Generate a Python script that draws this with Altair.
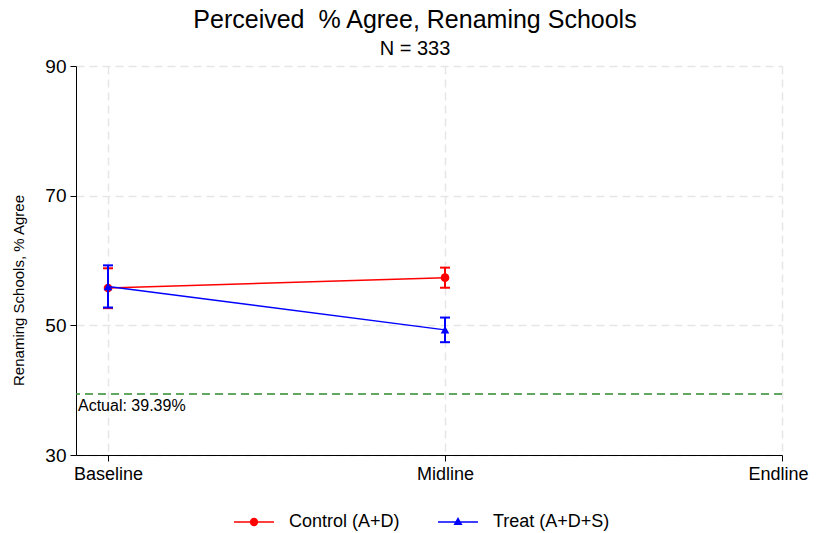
import altair as alt
import pandas as pd
import math

# ---- data ----
waves = ["Baseline", "Midline", "Endline"]
wave_pos = [1, 2, 3]
groups = ["Control (A+D)", "Treat (A+D+S)"]

control_mean = [55.75, 57.35]
control_lo = [52.65, 55.8]
control_hi = [58.8, 58.9]

treat_mean = [56.0, 49.3]
treat_lo = [52.75, 47.4]
treat_hi = [59.25, 51.2]

actual_value = 39.39
actual_label = "Actual: 39.39%"

colors = ["#ff0000", "#0000ff"]
markers = ["circle", "triangle-up"]
green = "#2e8b2e"
FONT = "Liberation Sans"

rows = []
for g, m, lo, hi in [
    (groups[0], control_mean, control_lo, control_hi),
    (groups[1], treat_mean, treat_lo, treat_hi),
]:
    for i in range(len(m)):
        rows.append({"wave": wave_pos[i], "group": g, "mean": m[i], "lo": lo[i], "hi": hi[i]})
df = pd.DataFrame(rows)

ref_df = pd.DataFrame({"y": [actual_value], "x": [0.905], "label": [actual_label]})

xscale = alt.Scale(domain=[0.905, 3.0], nice=False, zero=False)
yscale = alt.Scale(domain=[30, 90], nice=False, zero=False)

label_expr = "datum.value == 1 ? 'Baseline' : datum.value == 2 ? 'Midline' : 'Endline'"

xaxis = alt.Axis(values=wave_pos, labelExpr=label_expr, title=None, grid=True,
                 labelPadding=4, labelFlush=False, labelFontSize=18,
                 labelOffset={"condition": {"test": "datum.value == 3", "value": -4}, "value": 0})
yaxis = alt.Axis(values=[30, 50, 70, 90], title="Renaming Schools, % Agree", grid=True,
                 labelPadding=4, labelFontSize=19, titleX=-50, titleY=224, titleFontSize=15,
                 titleFontWeight="normal", titleFont=FONT, titleColor="black")

# legend glyphs: a thin filled bar (the line) plus the marker (polygon circle)
bar = "M-2,-0.075L2,-0.075L2,0.075L-2,0.075Z"
circ_pts = [(0.42 * math.cos(2 * math.pi * k / 16), 0.42 * math.sin(2 * math.pi * k / 16))
            for k in range(16)]
circle_path = bar + "M" + "L".join(f"{x:.3f},{y:.3f}" for x, y in circ_pts) + "Z"
tri_path = bar + "M0,-0.5L0.45,0.3L-0.45,0.3Z"

legend = alt.Legend(
    title=None, orient="none", direction="horizontal", legendX=168, legendY=446,
    labelFontSize=18, labelFont=FONT, labelColor="black", symbolSize=400,
    labelOffset=25, columnPadding=38, padding=0, symbolStrokeWidth=0, symbolOpacity=1,
)

base = alt.Chart(df)

# legend-only layer: zero-size marks, the legend carries the glyphs
legend_layer = base.mark_point(filled=True, opacity=1, size=0).encode(
    x=alt.X("wave:Q", scale=xscale, axis=xaxis),
    y=alt.Y("mean:Q", scale=yscale, axis=yaxis),
    color=alt.Color("group:N", scale=alt.Scale(domain=groups, range=colors), legend=legend),
    shape=alt.Shape("group:N", scale=alt.Scale(domain=groups, range=[circle_path, tri_path]),
                    legend=legend),
)

ref_line = alt.Chart(ref_df).mark_rule(color=green, strokeWidth=1.5, strokeDash=[8, 5]).encode(
    y="y:Q"
)
ref_text = alt.Chart(ref_df).mark_text(align="left", baseline="top", dx=2, dy=4,
                                       fontSize=16, font=FONT, color="black").encode(
    x="x:Q", y="y:Q", text="label:N"
)

layers = [legend_layer, ref_line, ref_text]
for g, c, mk in zip(groups, colors, markers):
    sub = base.transform_filter(alt.datum.group == g)
    layers.append(sub.mark_line(strokeWidth=1.5, color=c).encode(x="wave:Q", y="mean:Q"))
    layers.append(sub.mark_rule(strokeWidth=2, color=c).encode(x="wave:Q", y="lo:Q", y2="hi:Q"))
    layers.append(sub.mark_tick(orient="horizontal", size=10, thickness=2, opacity=1, color=c)
                  .encode(x="wave:Q", y="lo:Q"))
    layers.append(sub.mark_tick(orient="horizontal", size=10, thickness=2, opacity=1, color=c)
                  .encode(x="wave:Q", y="hi:Q"))
    layers.append(sub.mark_point(filled=True, size=75, opacity=1, shape=mk, color=c)
                  .encode(x="wave:Q", y="mean:Q"))

chart = alt.layer(*layers).properties(
    width=706, height=389,
    title=alt.TitleParams(
        text="Perceived\u00a0 % Agree, Renaming Schools",
        subtitle="N = 333",
        fontSize=25, font=FONT, fontWeight="normal", color="black",
        subtitleFontSize=20, subtitleFont=FONT, subtitleColor="black",
        anchor="middle", dx=-14, offset=-2, subtitlePadding=6,
    ),
    autosize=alt.AutoSizeParams(type="none"),
    padding={"left": 68, "top": 58, "right": 27, "bottom": 77},
).configure_view(stroke=None).configure_axis(
    domainColor="black", domainWidth=1, tickColor="black", tickSize=6, tickWidth=1,
    labelFont=FONT, labelColor="black",
    gridColor="#e6e6e6", gridDash=[8, 5], gridWidth=1.5,
)

chart.save("out.html", embed_options={"renderer": "svg", "actions": False})
